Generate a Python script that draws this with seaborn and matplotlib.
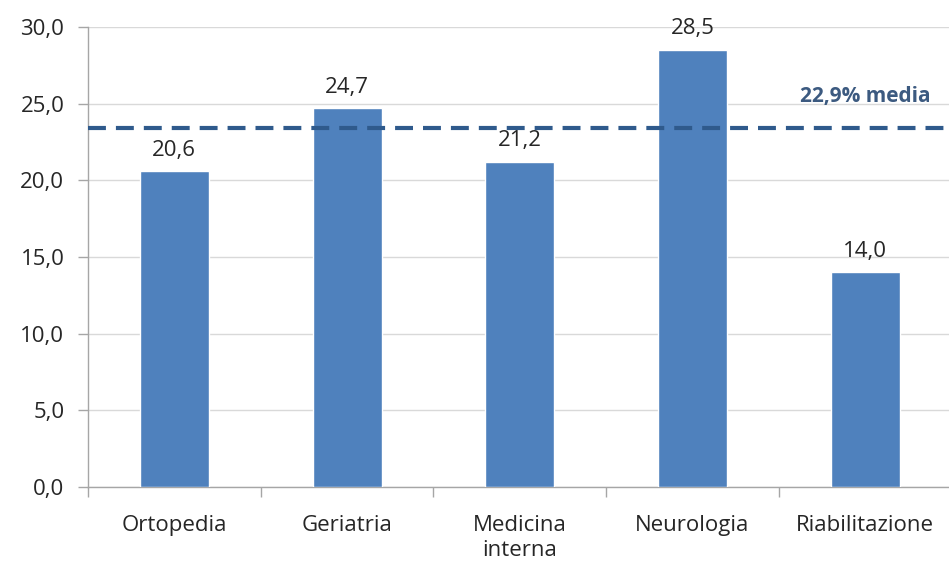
import pandas as pd
import matplotlib.pyplot as plt
import seaborn as sns

reparti = ["Ortopedia", "Geriatria", "Medicina\ninterna", "Neurologia", "Riabilitazione"]
valori = [20.6, 24.7, 21.2, 28.5, 14.0]
linea_media = 23.4
etichetta_media = "22,9% media"
yticks = [0, 5, 10, 15, 20, 25, 30]

df = pd.DataFrame({"Reparto": reparti, "Valore": valori})

sns.set_theme(style="white")
plt.rcParams["font.family"] = ["Open Sans", "DejaVu Sans"]

fig = plt.figure(figsize=(9.49, 5.66), dpi=100)
ax = fig.add_axes([0.0927, 0.1396, 0.91, 0.8124])

sns.barplot(data=df, x="Reparto", y="Valore", color="#4F81BD", saturation=1,
            width=0.4, ax=ax, zorder=3)

for i, v in enumerate(valori):
    ax.text(i, v + 0.7, f"{v:.1f}".replace(".", ","), ha="center", va="bottom",
            fontsize=16, color="#262626", zorder=4)

ax.axhline(linea_media, color="#2F5A8C", lw=3, linestyle=(0, (4.3, 2.4)), zorder=4)
ax.text(4.38, 24.8, etichetta_media, ha="right", va="bottom", fontsize=15,
        fontweight="bold", color="#3C5A80", zorder=4)

ax.set_ylim(0, 30)
ax.set_xlim(-0.5, 4.5)
ax.set_yticks(yticks)
ax.set_yticklabels([f"{t:.1f}".replace(".", ",") for t in yticks], fontsize=16, color="#262626")
ax.set_xticks(range(len(reparti)))
ax.set_xticklabels(reparti, fontsize=16, color="#262626", linespacing=1.25)
ax.set_xlabel("")
ax.set_ylabel("")

ax.yaxis.grid(True, color="#D9D9D9", lw=1, zorder=0)
ax.set_axisbelow(True)
for s in ["top", "right"]:
    ax.spines[s].set_visible(False)
for s in ["left", "bottom"]:
    ax.spines[s].set_color("#A6A6A6")
    ax.spines[s].set_linewidth(1)

# ticks at category boundaries on x, and outward on y
ax.set_xticks([i - 0.5 for i in range(len(reparti) + 1)], minor=True)
ax.tick_params(axis="x", which="major", length=0, pad=20)
ax.tick_params(axis="x", which="minor", length=7, color="#A6A6A6", width=1, direction="out", bottom=True)
ax.tick_params(axis="y", length=7, color="#A6A6A6", width=1, direction="out", pad=10, left=True)

fig.savefig("out.png", dpi=100)
